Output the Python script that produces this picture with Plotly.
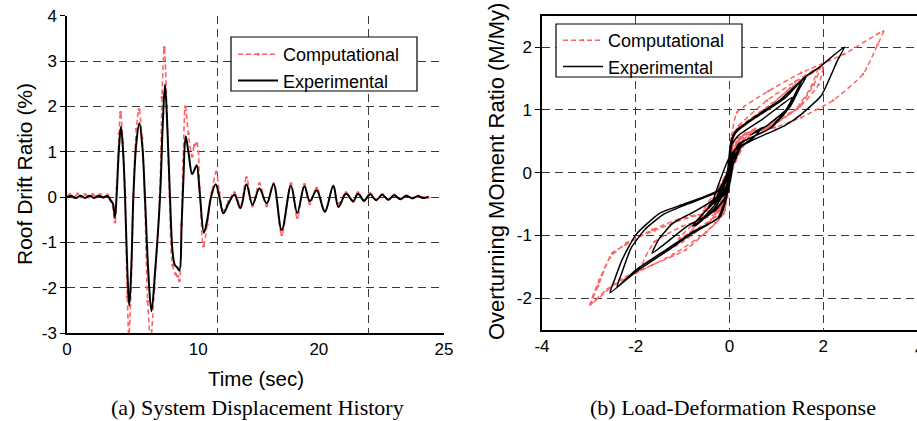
import plotly.graph_objects as go

# ---------------- Data: (a) roof drift time history ----------------
exp_t = [0, 0.3, 0.6, 0.9, 1.2, 1.5, 1.8, 2.1, 2.4, 2.7, 2.9, 3.05, 3.18, 3.3, 3.45, 3.58, 3.72, 3.85,
         4.0, 4.13, 4.27, 4.4, 4.6, 4.8, 5.0, 5.17, 5.4, 5.6, 5.85, 6.17, 6.35, 6.5, 6.67, 6.83, 7.0,
         7.15, 7.3, 7.45, 7.6, 7.72, 7.87, 8.05, 8.3, 8.45, 8.6, 8.8, 9.08, 9.3, 9.55, 9.86, 10.1,
         10.37, 10.7, 11.1, 11.5, 11.9, 12.3, 12.76, 13.24, 13.7, 14.24, 14.85, 15.27, 15.74, 16.1,
         16.56, 17.1, 17.66, 18.0, 18.5, 18.98, 19.3, 19.7, 20.1, 20.5, 20.9, 21.3, 21.7, 22.1, 22.5,
         22.9, 23.3, 23.6, 23.96]
exp_drift = [0.0, 0.02, -0.02, 0.03, -0.02, 0.03, -0.02, 0.03, -0.01, 0.02, -0.08, -0.15, -0.45, 0.1,
             1.1, 1.55, 1.0, 0.0, -1.6, -2.4, -1.5, 0.0, 1.2, 1.63, 1.1, 0.0, -1.7, -2.52, -1.6, 0.0,
             1.6, 2.48, 1.4, 0.0, -1.2, -1.5, -1.55, -1.62, -0.6, 0.4, 1.34, 1.0, 0.5, 0.6, 0.7, 0.1,
             -0.79, -0.5, 0.0, 0.28, 0.0, -0.36, -0.15, 0.05, -0.25, 0.28, -0.17, 0.19, -0.14, 0.28,
             -0.73, 0.25, -0.35, 0.24, -0.09, 0.15, -0.33, 0.25, -0.22, 0.07, -0.09, 0.07, -0.08, 0.06,
             -0.07, 0.05, -0.06, 0.04, -0.05, 0.03, -0.03, 0.02, -0.02, 0.0]

comp_t = [0, 0.2, 0.45, 0.7, 0.95, 1.2, 1.45, 1.7, 1.95, 2.2, 2.45, 2.7, 2.95, 3.18, 3.3, 3.45, 3.55,
          3.7, 3.85, 4.0, 4.1, 4.25, 4.4, 4.6, 4.78, 4.98, 5.15, 5.35, 5.55, 5.8, 6.15, 6.3, 6.45,
          6.62, 6.8, 7.0, 7.2, 7.35, 7.45, 7.6, 7.7, 7.85, 8.05, 8.3, 8.45, 8.6, 8.8, 9.05, 9.3, 9.6,
          9.9, 10.1, 10.37, 10.7, 11.1, 11.5, 11.9, 12.3, 12.76, 13.24, 13.7, 14.24, 14.85, 15.27,
          15.74, 16.1, 16.56, 17.1, 17.66, 18.0, 18.5, 18.98, 19.3, 19.7, 20.1, 20.5, 20.9, 21.3,
          21.7, 22.1, 22.5, 22.9, 23.3, 23.6, 23.96]
comp_drift = [0.0, 0.06, -0.01, 0.07, 0.0, 0.06, 0.0, 0.06, 0.0, 0.06, 0.0, 0.05, -0.1, -0.55, 0.2,
              1.4, 1.87, 1.2, 0.0, -2.2, -3.05, -2.0, 0.0, 1.5, 1.93, 1.3, 0.0, -2.3, -3.1, -2.0, 0.0,
              2.2, 3.3, 2.0, 0.0, -1.5, -1.7, -1.75, -1.85, -0.6, 0.8, 1.99, 1.4, 0.9, 1.15, 1.18, 0.2,
              -1.08, -0.6, 0.1, 0.55, 0.1, -0.3, -0.1, 0.1, -0.2, 0.43, -0.2, 0.3, -0.2, 0.3, -0.83,
              0.3, -0.45, 0.28, -0.15, 0.2, -0.3, 0.22, -0.15, 0.1, -0.1, 0.1, -0.08, 0.08, -0.06,
              0.06, -0.05, 0.05, -0.04, 0.03, -0.02, 0.02, -0.01, 0.0]

time_tick_vals = [0, 8.7, 16.7, 25]
time_tick_text = ["0", "10", "20", "25"]
drift_tick_vals = [-3, -2, -1, 0, 1, 2, 3, 4]
drift_tick_text = ["-3", "-2", "-1", "0", "1", "2", "3", "4"]

# ---------------- Data: (b) load-deformation hysteresis ----------------
exp_hx = [0, -0.05, -0.45, -0.3, -0.05, 0.0, 0.05, 0.15, 0.5, 1.0, 1.55,
          1.45, 1.25, 0.85, 0.2, 0.08, 0.02, -0.05, -0.2, -0.8, -1.3, -2.0, -2.4,
          -2.3, -2.1, -1.8, -1.4, -0.9, -0.25, -0.05, 0.02, 0.12, 0.5, 1.1, 1.63,
          1.5, 1.3, 0.9, 0.3, 0.1, 0.03, -0.08, -0.25, -0.8, -1.3, -2.0, -2.55,
          -2.45, -2.3, -2.0, -1.5, -0.94, -0.24, -0.05, 0.03, 0.15, 0.5, 1.2, 1.6, 1.9, 2.45,
          2.3, 1.96, 1.53, 1.18, 0.47, 0.12, 0.05, -0.05, -0.3, -0.9, -1.65,
          -1.5, -1.2, -0.7, -0.2, -0.02, 0.05, 0.2, 0.7, 1.34,
          1.2, 0.8, 0.45, 0.7,
          0.5, 0.1, 0.0, -0.1, -0.4, -0.79,
          -0.5, -0.1, 0.0, 0.05, 0.28,
          0.0, -0.36, -0.05, 0.05, 0.28, 0.0, -0.25, 0.0, 0.05, 0.0, -0.3, -0.73,
          -0.3, 0.0, 0.05, 0.25, 0.0, -0.35, 0.0]
exp_hy = [0, -0.25, -0.55, -0.4, -0.3, 0.0, 0.5, 0.65, 0.85, 1.1, 1.48,
          1.33, 1.04, 0.7, 0.46, 0.3, 0.0, -0.35, -0.7, -0.95, -1.2, -1.55, -1.82,
          -1.6, -1.2, -0.9, -0.66, -0.5, -0.3, 0.0, 0.45, 0.65, 0.87, 1.17, 1.52,
          1.35, 1.06, 0.72, 0.5, 0.35, 0.0, -0.4, -0.72, -0.97, -1.23, -1.58, -1.91,
          -1.7, -1.4, -0.99, -0.65, -0.49, -0.28, 0.0, 0.5, 0.68, 0.85, 1.2, 1.52, 1.67, 2.0,
          1.78, 1.23, 0.93, 0.75, 0.51, 0.35, 0.0, -0.35, -0.6, -0.85, -1.28,
          -1.05, -0.8, -0.6, -0.35, 0.0, 0.45, 0.6, 0.85, 1.2,
          1.0, 0.75, 0.6, 0.72,
          0.55, 0.35, 0.0, -0.4, -0.65, -0.85,
          -0.6, -0.3, 0.0, 0.3, 0.5,
          0.25, -0.5, -0.3, 0.2, 0.45, 0.1, -0.45, -0.1, 0.3, 0.0, -0.5, -0.85,
          -0.55, -0.1, 0.3, 0.45, 0.0, -0.5, 0.0]

comp_hx = [0, -0.55,
           -0.3, -0.1, 0.0, 0.05, 0.2, 0.8, 1.4, 1.87,
           1.75, 1.4, 0.9, 0.3, 0.05, 0.0, -0.1, -0.3, -0.94, -1.65, -2.35, -2.97,
           -2.78, -2.5, -2.22, -1.65, -0.94, -0.24, -0.05, 0.05, 0.1, 0.7, 1.3, 1.93,
           1.8, 1.45, 0.95, 0.35, 0.05, -0.02, -0.12, -0.5, -1.2, -2.0, -2.6, -2.95,
           -2.8, -2.55, -2.2, -1.6, -0.9, -0.2, -0.03, 0.05, 0.16, 0.83, 1.53, 2.45, 3.28,
           3.16, 2.85, 2.21, 1.53, 0.97, 0.33, 0.05, -0.05, -0.3, -1.0, -1.85,
           -1.6, -1.0, -0.3, -0.05, 0.05, 0.2, 0.9, 1.5, 1.99,
           1.9, 1.5, 0.9, 1.18,
           0.8, 0.2, 0.02, -0.05, -0.4, -1.08,
           -0.6, -0.1, 0.0, 0.1, 0.55,
           0.2, 0.0, -0.3, 0.0, 0.43, 0.0, -0.2, 0.3, 0.0, -0.83, 0.0, 0.3, -0.45, 0.0]
comp_hy = [0, -0.6,
           -0.6, -0.5, 0.0, 0.55, 0.75, 1.15, 1.45, 1.65,
           1.38, 1.0, 0.75, 0.6, 0.4, 0.0, -0.6, -0.8, -1.23, -1.47, -1.71, -2.1,
           -1.71, -1.28, -1.15, -0.91, -0.7, -0.6, -0.2, 0.55, 0.65, 0.95, 1.35, 1.68,
           1.4, 1.02, 0.78, 0.62, 0.35, 0.0, -0.65, -0.95, -1.3, -1.6, -1.85, -2.08,
           -1.8, -1.35, -1.12, -0.92, -0.72, -0.58, -0.2, 0.6, 0.96, 1.3, 1.59, 1.89, 2.25,
           2.04, 1.57, 1.15, 0.88, 0.72, 0.62, 0.3, -0.4, -0.7, -1.1, -1.45,
           -1.1, -0.85, -0.65, -0.2, 0.55, 0.72, 1.1, 1.45, 1.68,
           1.4, 1.05, 0.8, 0.95,
           0.7, 0.55, 0.2, -0.4, -0.75, -1.05,
           -0.7, -0.5, 0.0, 0.5, 0.7,
           0.45, 0.0, -0.55, 0.0, 0.6, 0.0, -0.45, 0.5, 0.0, -0.95, 0.0, 0.55, -0.6, 0.0]

deform_tick_vals = [-4, -2, 0, 2]
deform_tick_text = ["-4", "-2", "0", "2"]
deform_edge_label = "4"
moment_tick_vals = [-2, -1, 0, 1, 2]
moment_tick_text = ["-2", "-1", "0", "1", "2"]

# ---------------- Styles ----------------
RED = "#ff6464"
BLACK = "#000000"
GRID = "#3a3a3a"
SANS = "Liberation Sans, Arial, sans-serif"
SERIF = "Liberation Serif, Times New Roman, serif"
DASH_GRID = "8px,5px"

fig = go.Figure()

fig.add_trace(go.Scatter(x=comp_t, y=comp_drift, name="Computational", mode="lines+markers",
                         line=dict(color=RED, width=1.6, dash="5px,3px", shape="spline", smoothing=1.0),
                         marker=dict(size=3, color=RED), xaxis="x", yaxis="y", legend="legend"))
fig.add_trace(go.Scatter(x=exp_t, y=exp_drift, name="Experimental", mode="lines",
                         line=dict(color=BLACK, width=2, shape="spline", smoothing=1.0),
                         xaxis="x", yaxis="y", legend="legend"))

fig.add_trace(go.Scatter(x=comp_hx, y=comp_hy, name="Computational", mode="lines+markers",
                         line=dict(color=RED, width=1.5, dash="5px,3px", shape="spline", smoothing=0.5),
                         marker=dict(size=2.5, color=RED), xaxis="x2", yaxis="y2", legend="legend2"))
fig.add_trace(go.Scatter(x=exp_hx, y=exp_hy, name="Experimental", mode="lines",
                         line=dict(color=BLACK, width=1.5, shape="spline", smoothing=0.5),
                         xaxis="x2", yaxis="y2", legend="legend2"))

W, H = 917, 421
def px_x(p):
    return p / W
def px_y(p):
    return 1 - p / H

tickfont = dict(family=SANS, size=17, color="black")
grid_common = dict(showgrid=True, gridcolor=GRID, griddash=DASH_GRID, gridwidth=1)
line_common = dict(showline=True, linecolor="black", linewidth=1.5, zeroline=False,
                   automargin=False, tickfont=tickfont)

legend_style = dict(xanchor="left", yanchor="top", bgcolor="rgba(0,0,0,0)", borderwidth=0,
                    font=dict(family=SANS, size=18, color="black"), itemwidth=40, tracegroupgap=0)

fig.update_layout(
    width=W, height=H,
    margin=dict(l=0, r=0, t=0, b=0, autoexpand=False),
    paper_bgcolor="white", plot_bgcolor="white",
    showlegend=True,
    xaxis=dict(domain=[px_x(67), px_x(444)], anchor="y", range=[0, 25],
               tickvals=time_tick_vals, ticktext=time_tick_text, ticks="", showgrid=False,
               minor=dict(tickvals=[10, 20, 25], ticks="", **grid_common),
               **line_common),
    yaxis=dict(domain=[px_y(333), px_y(15.7)], anchor="x", range=[-3, 4],
               tickvals=drift_tick_vals, ticktext=drift_tick_text,
               ticks="outside", ticklen=5, tickcolor="black", **grid_common, **line_common),
    xaxis2=dict(domain=[px_x(542), 1.0], anchor="y2", range=[-4, 4],
                tickvals=deform_tick_vals, ticktext=deform_tick_text, ticks="",
                mirror=True, **grid_common, **line_common),
    yaxis2=dict(domain=[px_y(329.7), px_y(15.7)], anchor="x2", range=[-2.5, 2.5],
                tickvals=moment_tick_vals, ticktext=moment_tick_text,
                ticks="outside", ticklen=5, tickcolor="black", **grid_common, **line_common),
    legend=dict(x=px_x(233), y=px_y(36), **legend_style),
    legend2=dict(x=px_x(558), y=px_y(22), **legend_style),
    shapes=[
        dict(type="rect", xref="paper", yref="paper", x0=px_x(231), x1=px_x(417),
             y0=px_y(91), y1=px_y(37), fillcolor="white", line=dict(color="black", width=1.2),
             layer="above"),
        dict(type="rect", xref="paper", yref="paper", x0=px_x(556), x1=px_x(742),
             y0=px_y(77), y1=px_y(24), fillcolor="white", line=dict(color="black", width=1.2),
             layer="above"),
    ],
    annotations=[
        dict(text="Roof Drift Ratio (%)", x=px_x(24), y=px_y(174), xref="paper", yref="paper",
             xanchor="center", yanchor="middle", textangle=-90, showarrow=False,
             font=dict(family=SANS, size=21, color="black")),
        dict(text="Overturning MOment Ratio (M/My)", x=px_x(496), y=px_y(172), xref="paper",
             yref="paper", xanchor="center", yanchor="middle", textangle=-90, showarrow=False,
             font=dict(family=SANS, size=22, color="black")),
        dict(text="Time (sec)", x=px_x(256), y=px_y(378), xref="paper", yref="paper",
             xanchor="center", yanchor="middle", showarrow=False,
             font=dict(family=SANS, size=20.5, color="black")),
        dict(text=deform_edge_label, x=px_x(919), y=px_y(349), xref="paper", yref="paper",
             xanchor="center", yanchor="middle", showarrow=False,
             font=tickfont),
        dict(text="(a) System Displacement History", x=px_x(257), y=px_y(407), xref="paper",
             yref="paper", xanchor="center", yanchor="middle", showarrow=False,
             font=dict(family=SERIF, size=22, color="black")),
        dict(text="(b) Load-Deformation Response", x=px_x(733), y=px_y(407), xref="paper",
             yref="paper", xanchor="center", yanchor="middle", showarrow=False,
             font=dict(family=SERIF, size=22, color="black")),
    ],
)

fig.write_html("out.html")
